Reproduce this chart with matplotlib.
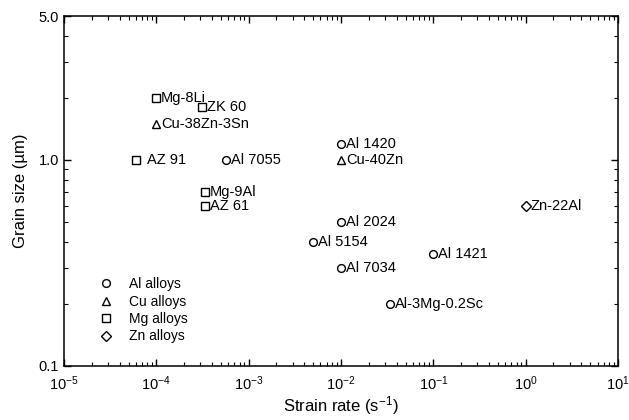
import matplotlib
matplotlib.use("Agg")
import matplotlib.pyplot as plt
from matplotlib.lines import Line2D
from matplotlib.ticker import FixedLocator, NullFormatter, LogLocator

plt.rcParams['font.family'] = ['Liberation Sans', 'DejaVu Sans']
plt.rcParams['mathtext.default'] = 'regular'

# alloy name, strain rate (1/s), grain size (um), family
names = ["Mg-8Li", "ZK 60", "Cu-38Zn-3Sn", "AZ 91", "Al 7055", "Mg-9Al", "AZ 61",
         "Al 1420", "Cu-40Zn", "Zn-22Al", "Al 2024", "Al 5154", "Al 1421",
         "Al 7034", "Al-3Mg-0.2Sc"]
strain_rate = [1e-4, 3.1e-4, 1e-4, 6e-5, 5.7e-4, 3.4e-4, 3.4e-4,
               1e-2, 1e-2, 1.0, 1e-2, 5e-3, 1e-1,
               1e-2, 3.4e-2]
grain_size = [2.0, 1.8, 1.5, 1.0, 1.0, 0.7, 0.6,
              1.2, 1.0, 0.6, 0.5, 0.4, 0.35,
              0.3, 0.2]
family = ["Mg", "Mg", "Cu", "Mg", "Al", "Mg", "Mg",
          "Al", "Cu", "Zn", "Al", "Al", "Al",
          "Al", "Al"]

families = ["Al", "Cu", "Mg", "Zn"]
markers = {"Al": "o", "Cu": "^", "Mg": "s", "Zn": "D"}
msizes = {"Al": 5.6, "Cu": 6.0, "Mg": 5.4, "Zn": 4.8}
label_dx = {"AZ 91": 8}


def main():
    fig = plt.figure(figsize=(6.29, 4.20), dpi=100)
    ax = fig.add_axes([0.1017, 0.1286, 0.8808, 0.8333])

    for fam in families:
        xs = [x for x, f in zip(strain_rate, family) if f == fam]
        ys = [y for y, f in zip(grain_size, family) if f == fam]
        ax.plot(xs, ys, linestyle="none", marker=markers[fam], ms=msizes[fam],
                mfc="white", mec="black", mew=1.0)

    for n, x, y in zip(names, strain_rate, grain_size):
        ax.annotate(n, (x, y), xytext=(label_dx.get(n, 3.5), 0), textcoords="offset points",
                    va="center", ha="left", fontsize=10.5)

    ax.set_xscale("log")
    ax.set_yscale("log")
    ax.set_xlim(1e-5, 10)
    ax.set_ylim(0.1, 5.0)

    ax.xaxis.set_minor_locator(LogLocator(base=10, subs=range(2, 10), numticks=10))
    ax.xaxis.set_minor_formatter(NullFormatter())
    ax.set_xticks([10.0 ** e for e in range(-5, 2)])
    ax.set_xticklabels([r"$10^{%d}$" % e for e in range(-5, 2)])

    ax.yaxis.set_minor_locator(FixedLocator([0.2, 0.3, 0.4, 0.5, 0.6, 0.7, 0.8, 0.9, 2, 3, 4]))
    ax.yaxis.set_minor_formatter(NullFormatter())
    ax.set_yticks([0.1, 1.0, 5.0])
    ax.set_yticklabels(["0.1", "1.0", "5.0"])

    ax.tick_params(which="both", direction="in", top=True, right=True, labelsize=10.5)
    ax.tick_params(axis="x", which="major", pad=6)
    ax.tick_params(which="major", length=5, width=1)
    ax.tick_params(which="minor", length=3, width=0.8)
    for s in ax.spines.values():
        s.set_linewidth(1.1)

    ax.set_xlabel(r"Strain rate (s$^{-1}$)", fontsize=12, labelpad=1)
    ax.set_ylabel("Grain size (\u00b5m)", fontsize=12, labelpad=8)

    handles = [Line2D([], [], linestyle="none", marker=markers[f], ms=msizes[f],
                      mfc="white", mec="black", mew=1.0) for f in families]
    ax.legend(handles, [f + " alloys" for f in families], loc="upper left",
              bbox_to_anchor=(0.045, 0.27), frameon=False, fontsize=10,
              handlelength=1.6, handletextpad=0.9, labelspacing=0.25, borderaxespad=0)

    fig.savefig("out.png", dpi=100)


if __name__ == "__main__":
    main()
